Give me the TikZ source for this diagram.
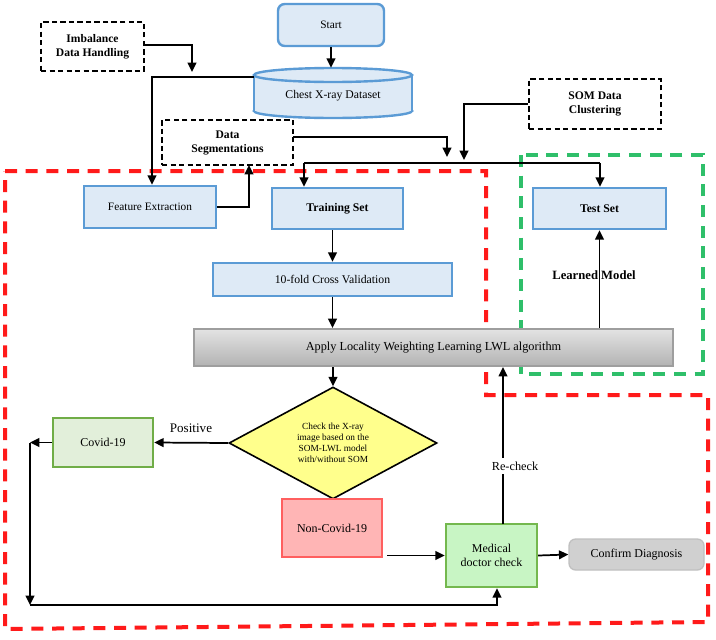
\documentclass[tikz,border=0pt]{standalone}
\usepackage{fontspec}
\setmainfont{Liberation Serif}
\usetikzlibrary{arrows.meta,shapes.geometric,calc}
\definecolor{boxblue}{HTML}{DEEAF6}
\definecolor{edgeblue}{HTML}{5B9BD5}
\definecolor{covfill}{HTML}{E2EFDA}
\definecolor{covedge}{HTML}{70AD47}
\definecolor{nonfill}{HTML}{FFB5B5}
\definecolor{nonedge}{HTML}{FF5F5F}
\definecolor{medfill}{HTML}{C8F5C4}
\definecolor{mededge}{HTML}{74B84E}
\definecolor{conffill}{HTML}{D0D0D0}
\definecolor{confedge}{HTML}{C0C0C0}
\definecolor{diafill}{HTML}{FFFF8C}
\definecolor{regred}{HTML}{FF1A1A}
\definecolor{reggreen}{HTML}{2FBF6A}
\begin{document}
\begin{tikzpicture}[x=0.75pt,y=-0.75pt,
  base/.style={inner sep=0pt, align=center, font=\fontsize{8.5}{10}\selectfont},
  bluebox/.style={base, draw=edgeblue, fill=boxblue, line width=1.8pt},
  dbox/.style={base, draw=black, fill=white, line width=1.9pt, dash pattern=on 4pt off 2.4pt, font=\bfseries\fontsize{8.7}{10.5}\selectfont},
  arr/.style={-{Triangle[length=7pt,width=6.5pt]}, line width=1.3pt},
  ln/.style={line width=1.3pt},
  reddash/.style={draw=regred, line width=3pt, dash pattern=on 9pt off 6.5pt},
  greendash/.style={draw=reggreen, line width=3pt, dash pattern=on 9pt off 6.5pt},
  lbl/.style={font=\fontsize{9}{10}\selectfont, inner sep=1pt}
]
\useasboundingbox (0,0) rectangle (716,639);

% regions
\draw[reddash] (5,171) -- (486,171) -- (486,395) -- (708,395) -- (708,622) -- (5,629) -- cycle;
\draw[greendash] (521,155) rectangle (703,374);

% cylinder
\filldraw[fill=boxblue, draw=edgeblue, line width=1.8pt] (333,111) ellipse [x radius=79, y radius=7];
\fill[boxblue] (254,75) rectangle (412,111);
\draw[edgeblue, line width=1.8pt] (254,75) -- (254,111) (412,75) -- (412,111);
\filldraw[fill=boxblue, draw=edgeblue, line width=1.8pt] (333,75) ellipse [x radius=79, y radius=7];
\node[base, minimum width=118.5pt, minimum height=37.5pt] (data) at (333,93) {};
\node[base, font=\fontsize{8.8}{10}\selectfont] at (333,96) {Chest X-ray Dataset};

% nodes
\node[bluebox, rounded corners=5pt, minimum width=79.5pt, minimum height=31.5pt] (start) at (331,25) {Start};
\node[dbox, minimum width=77.25pt, minimum height=36.75pt] (imb) at (92.5,46.5) {Imbalance\\Data Handling};
\node[dbox, minimum width=98.25pt, minimum height=33.75pt] (seg) at (227.5,142.5) {Data\\Segmentations};
\node[dbox, minimum width=99pt, minimum height=37.5pt] (som) at (595,104) {SOM Data\\Clustering};
\node[bluebox, minimum width=99pt, minimum height=31.5pt] (fe) at (150,207) {Feature Extraction};
\node[bluebox, minimum width=98.25pt, minimum height=30.75pt, font=\bfseries\fontsize{8.8}{10}\selectfont] (train) at (337.5,208.5) {Training Set};
\node[bluebox, minimum width=99.75pt, minimum height=30.75pt, font=\bfseries\fontsize{8.8}{10}\selectfont] (test) at (599.5,208.5) {Test Set};
\node[bluebox, minimum width=179.25pt, minimum height=24.75pt, font=\fontsize{8.8}{10}\selectfont] (cv) at (332.5,279.5) {10-fold Cross Validation};
\node[base, draw=black!38, line width=1.6pt, top color=black!11, bottom color=black!30, minimum width=359.25pt, minimum height=27.75pt, font=\fontsize{9.2}{10}\selectfont] (lwl) at (433.5,347.5) {Apply Locality Weighting Learning LWL algorithm};
\node[diamond, draw=black, line width=1.2pt, fill=diafill, inner sep=0pt, shape aspect=1.86, minimum width=156pt, minimum height=84pt, align=center, font=\fontsize{7}{8.2}\selectfont] (dia) at (333,443) {Check the X-ray\\image based on the\\SOM-LWL model\\with/without SOM};
\node[base, draw=covedge, fill=covfill, line width=1.8pt, minimum width=75pt, minimum height=36.75pt, font=\fontsize{9}{10}\selectfont] (cov) at (103,442.5) {Covid-19};
\node[base, draw=nonedge, fill=nonfill, line width=1.8pt, minimum width=75pt, minimum height=43.5pt, font=\fontsize{9}{10}\selectfont] (non) at (332,528) {Non-Covid-19};
\node[base, draw=mededge, fill=medfill, line width=1.8pt, minimum width=68.25pt, minimum height=47.25pt, font=\fontsize{9}{10.5}\selectfont] (med) at (491.5,555.5) {Medical\\doctor check};
\node[base, draw=confedge, fill=conffill, line width=1pt, rounded corners=5pt, minimum width=101.25pt, minimum height=23.25pt, font=\fontsize{9}{10}\selectfont] (conf) at (636.5,554.5) {Confirm Diagnosis};

% coordinates
\coordinate (imbend) at (192,72);
\coordinate (datal) at (254,77);
\coordinate (segin) at (249,165);
\coordinate (segout) at (293,137);
\coordinate (segend) at (447,157);
\coordinate (somend) at (464,160);
\coordinate (hubL) at (304,163);
\coordinate (hubR) at (600,163);
\coordinate (covl) at (30,442.5);
\coordinate (bl) at (30,605);
\coordinate (br) at (497,605);
\coordinate (nonout) at (387,555.5);
\coordinate (recheck) at (503,524);

% connectors
\draw[arr] (start.south) -- (start.south |- data.north);
\draw[arr] (imb.east |- 0,45) -| (imbend);
\draw[arr] (datal) -| (fe.north -| 152,0);
\draw[arr] (fe.east) -| (segin);
\draw[arr] (segout) -| (segend);
\draw[arr] (som.west) -| (somend);
\draw[ln] (hubL) -- (hubR);
\draw[arr] (hubL) -- (hubL |- train.north);
\draw[arr] (hubR) -- (hubR |- test.north);
\draw[arr] (cv.north |- train.south) -- (cv.north);
\draw[arr] (cv.south) -- (cv.south |- lwl.north);
\draw[arr] (dia.north |- lwl.south) -- (dia.north);
\draw[arr] (test.south |- lwl.north) -- (test.south);
\node[lbl, font=\bfseries\fontsize{9.5}{10}\selectfont] at (594,275) {Learned Model};
\draw[arr] (dia.west) -- (cov.east);
\node[lbl, font=\fontsize{9.8}{10}\selectfont] at (191,428) {Positive};
\draw[arr] (cov.west) -- (covl);
\draw[arr] (covl) -- (bl);
\draw[arr] (bl) -- (br) -- (br |- med.south);
\draw[arr] (nonout) -- (med.west);
\draw[arr] (recheck) -- (recheck |- lwl.south);
\node[lbl, fill=white, inner sep=3pt, font=\fontsize{9.2}{10}\selectfont] at (515,466) {Re-check};
\draw[arr] (med.east) -- (conf.west);
\end{tikzpicture}
\end{document}
